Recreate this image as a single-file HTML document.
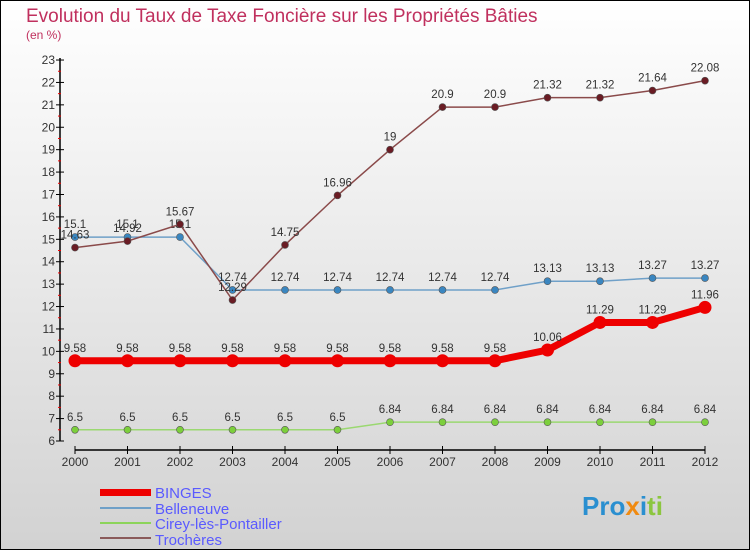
<!DOCTYPE html>
<html><head><meta charset="utf-8"><style>
body{margin:0;width:750px;height:550px;overflow:hidden}
svg{display:block;font-family:"Liberation Sans",sans-serif}
</style></head><body>
<svg width="750" height="550" viewBox="0 0 750 550">
<defs><linearGradient id="bg" x1="0" y1="0" x2="0" y2="1"><stop offset="0" stop-color="#ffffff"/><stop offset="1" stop-color="#d2d2d2"/></linearGradient></defs>
<rect x="0.5" y="0.5" width="749" height="549" fill="url(#bg)" stroke="#000"/>
<text x="26" y="22" font-size="19" fill="#c0305e">Evolution du Taux de Taxe Foncière sur les Propriétés Bâties</text>
<text x="26" y="39" font-size="12" fill="#c0305e">(en %)</text>
<g id="axes"></g>
<g id="series"></g>
<g id="legend" font-size="15" fill="#5a5aff">
<rect x="100" y="489" width="51" height="7" fill="#e00"/>
<text x="155" y="498">BINGES</text>
<rect x="100" y="507" width="51" height="2" fill="#6fa0c8"/>
<text x="155" y="514">Belleneuve</text>
<rect x="100" y="522" width="51" height="2" fill="#8cd45a"/>
<text x="155" y="529">Cirey-lès-Pontailler</text>
<rect x="100" y="537" width="51" height="2" fill="#8a5a5a"/>
<text x="155" y="545">Trochères</text>
</g>
<g font-size="26" font-weight="bold">
<text x="582" y="515"><tspan fill="#2a8fd0">Pro</tspan><tspan fill="#f08a10">x</tspan><tspan fill="#2a8fd0">i</tspan><tspan fill="#8cc63f">ti</tspan></text>
</g>
</svg>
<script>
const years=[2000,2001,2002,2003,2004,2005,2006,2007,2008,2009,2010,2011,2012];
const binges=[9.58,9.58,9.58,9.58,9.58,9.58,9.58,9.58,9.58,10.06,11.29,11.29,11.96];
const belleneuve=[15.1,15.1,15.1,12.74,12.74,12.74,12.74,12.74,12.74,13.13,13.13,13.27,13.27];
const cirey=[6.5,6.5,6.5,6.5,6.5,6.5,6.84,6.84,6.84,6.84,6.84,6.84,6.84];
const trocheres=[14.63,14.92,15.67,12.29,14.75,16.96,19,20.9,20.9,21.32,21.32,21.64,22.08];
const yTicks=[6,7,8,9,10,11,12,13,14,15,16,17,18,19,20,21,22,23];
const NS="http://www.w3.org/2000/svg";
const X=i=>75+i*52.5, Y=v=>441-(v-6)*22.41;
function mk(t,a,p){const e=document.createElementNS(NS,t);for(const k in a)e.setAttribute(k,a[k]);p.appendChild(e);return e;}
const ax=document.getElementById('axes');
const ya=mk('line',{x1:60,y1:58,x2:60,y2:441,stroke:'#000','stroke-width':1.5},ax);


const xa=mk('line',{x1:75,y1:450,x2:705,y2:450,stroke:'#000','stroke-width':1.5},ax);


yTicks.forEach(v=>{
  mk('line',{x1:56,x2:64,y1:Y(v),y2:Y(v),stroke:'#000'},ax);
  if(v<23)mk('line',{x1:58,x2:61,y1:Y(v+0.5),y2:Y(v+0.5),stroke:'#e00'},ax);
  const t=mk('text',{x:55,y:Y(v)+4,'text-anchor':'end','font-size':12,fill:'#333'},ax);
  t.textContent=v;
  
  
});
years.forEach((yr,i)=>{
  mk('line',{x1:X(i),x2:X(i),y1:446,y2:454,stroke:'#000'},ax);
  const t=mk('text',{x:X(i),y:466,'text-anchor':'middle','font-size':12,fill:'#333'},ax);
  t.textContent=yr;
  
  
});
const sg=document.getElementById('series');
function series(data,name,color,fill,w,r){
  const g=mk('g',{},sg);
  
  
  const pl=mk('polyline',{points:data.map((v,i)=>X(i)+','+Y(v)).join(' '),fill:'none',stroke:color,'stroke-width':w},g);
  
  
  data.forEach((v,i)=>{
    const c=mk('circle',{cx:X(i),cy:Y(v),r:r,fill:fill,stroke:color==='#e00'?'#e00':'#555','stroke-width':color==='#e00'?0:0.6},g);
    
    
    const t=mk('text',{x:X(i),y:Y(v)-9,'text-anchor':'middle','font-size':11.5,fill:'#333'},g);
    t.textContent=v;
    
    
  });
}
series(cirey,'cirey','#9ad870','#7ccf3c',1.5,3.5);
series(belleneuve,'belleneuve','#6fa0c8','#3a86c0',1.5,3.5);
series(trocheres,'trocheres','#8a4a4a','#6a1c24',1.5,3.5);
series(binges,'binges','#e00','#e00',7,6.5);
</script>
</body></html>
